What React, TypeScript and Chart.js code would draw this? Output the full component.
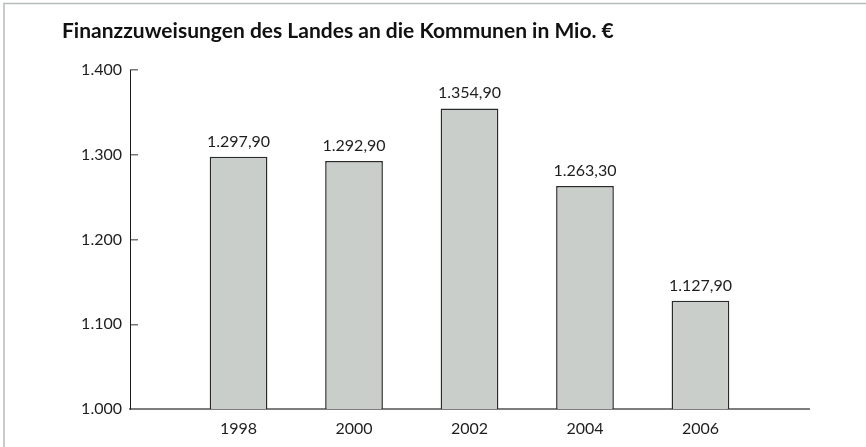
import React, { useEffect, useRef } from "react";
import { Chart, registerables } from "chart.js";

Chart.register(...registerables);

const TITLE = "Finanzzuweisungen des Landes an die Kommunen in Mio. €";
const years = [1998, 2000, 2002, 2004, 2006];
const values = [1297.9, 1292.9, 1354.9, 1263.3, 1127.9];
const yTicks = [1000, 1100, 1200, 1300, 1400];

const fmtValue = (v: number) =>
  v.toLocaleString("de-DE", { minimumFractionDigits: 2, maximumFractionDigits: 2 });
const fmtTick = (v: number) => v.toLocaleString("de-DE", { maximumFractionDigits: 0 });

const FONT = "Lato, 'Open Sans', sans-serif";

const framePlugin = {
  id: "frame",
  beforeDraw(chart: any) {
    const { ctx, width, height } = chart;
    ctx.save();
    ctx.fillStyle = "#ffffff";
    ctx.fillRect(0, 0, width, height);
    ctx.strokeStyle = "#b7bcba";
    ctx.lineWidth = 1.5;
    ctx.beginPath();
    ctx.moveTo(width, 3.5);
    ctx.lineTo(4, 3.5);
    ctx.lineTo(4, height);
    ctx.stroke();
    ctx.restore();
  },
};

const valueLabels = {
  id: "valueLabels",
  afterDatasetsDraw(chart: any) {
    const { ctx } = chart;
    const meta = chart.getDatasetMeta(0);
    ctx.save();
    ctx.font = `16px ${FONT}`;
    ctx.fillStyle = "#1e1e1e";
    ctx.textAlign = "center";
    ctx.textBaseline = "alphabetic";
    meta.data.forEach((bar: any, i: number) => {
      ctx.fillText(fmtValue(values[i]), bar.x, bar.y - 10);
    });
    ctx.restore();
  },
};

export default function App() {
  const ref = useRef<HTMLCanvasElement | null>(null);

  useEffect(() => {
    if (!ref.current) return;
    const chart = new Chart(ref.current, {
      type: "bar",
      data: {
        datasets: [
          {
            data: years.map((y, i) => ({ x: y, y: values[i] })),
            backgroundColor: "#c9cecb",
            borderColor: "#2a2a2a",
            borderWidth: 1.5,
            borderSkipped: "bottom",
            barPercentage: 1,
            categoryPercentage: 0.5,
          },
        ],
      },
      options: {
        animation: false,
        responsive: false,
        layout: { padding: { left: 62, right: 57, top: 0, bottom: 0 } },
        plugins: {
          legend: { display: false },
          tooltip: { enabled: false },
          title: {
            display: true,
            text: TITLE,
            align: "start",
            color: "#111",
            font: { family: FONT, size: 21, weight: "bold", lineHeight: 1.2 },
            padding: { top: 19, bottom: 26 },
          },
        },
        scales: {
          x: {
            type: "linear",
            min: 1996.12,
            max: 2007.88,
            offset: false,
            afterBuildTicks: (axis: any) => {
              axis.ticks = years.map((v) => ({ value: v }));
            },
            afterFit: (s: any) => {
              s.height = 38;
            },
            grid: { display: false, drawTicks: false },
            border: { display: true, color: "#7d7d7d", width: 2 },
            ticks: {
              color: "#1e1e1e",
              font: { family: FONT, size: 16 },
              padding: 10,
              autoSkip: false,
              maxRotation: 0,
              callback: (v: any) => String(v),
            },
          },
          y: {
            min: 1000,
            max: 1400,
            afterBuildTicks: (axis: any) => {
              axis.ticks = yTicks.map((v) => ({ value: v }));
            },
            afterFit: (s: any) => {
              s.width = 68;
            },
            grid: {
              drawOnChartArea: false,
              drawTicks: true,
              tickLength: -8,
              color: "#777",
              lineWidth: 1.5,
            },
            border: { display: true, color: "#1a1a1a", width: 1 },
            ticks: {
              color: "#1e1e1e",
              font: { family: FONT, size: 16 },
              padding: 16,
              callback: (v: any) => fmtTick(Number(v)),
            },
          },
        },
      },
      plugins: [framePlugin, valueLabels],
    });
    return () => chart.destroy();
  }, []);

  return (
    <div style={{ position: "fixed", left: 0, top: 0, width: 866, height: 447, background: "#fff" }}>
      <canvas ref={ref} width={866} height={447} style={{ display: "block" }} />
    </div>
  );
}
